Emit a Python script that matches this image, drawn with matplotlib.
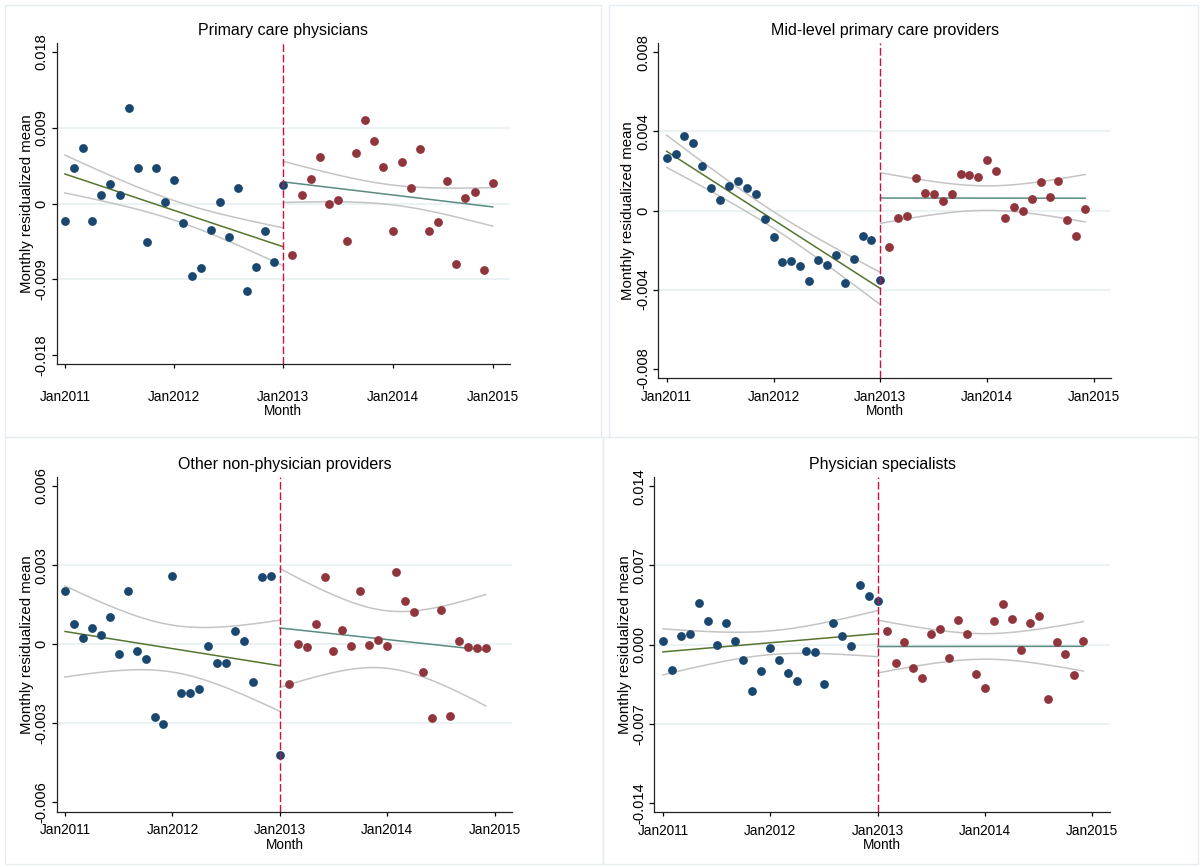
import numpy as np
import matplotlib
matplotlib.use('Agg')
import matplotlib.pyplot as plt
from matplotlib.patches import Rectangle

plt.rcParams['font.family'] = ['Liberation Sans', 'DejaVu Sans']

# =========================
# Monthly residualized means, Jan2011 - Dec2014
# pre = Jan2011..Jan2013 (25 months), post = Feb2013..Dec2014 (23 months)
# =========================
pcp_pre = [-0.00202, 0.00427, 0.00664, -0.00213, 0.00103, 0.00233, 0.00103, 0.01130,
           0.00427, -0.00462, 0.00419, 0.00016, 0.00281, -0.00233, -0.00861, -0.00763,
           -0.00320, 0.00016, -0.00399, 0.00190, -0.01043, -0.00759, -0.00328, -0.00695,
           0.00221]
pcp_post = [-0.00616, 0.00103, 0.00288, 0.00553, 0.00000, 0.00043, -0.00443, 0.00597,
            0.00992, 0.00739, 0.00431, -0.00332, 0.00490, 0.00182, 0.00648, -0.00324,
            -0.00217, 0.00265, -0.00715, 0.00063, 0.00134, -0.00786, 0.00241]

mid_pre = [0.00266, 0.00285, 0.00378, 0.00340, 0.00226, 0.00115, 0.00052, 0.00123,
           0.00147, 0.00116, 0.00083, -0.00042, -0.00133, -0.00261, -0.00253, -0.00282,
           -0.00357, -0.00251, -0.00278, -0.00226, -0.00369, -0.00243, -0.00128, -0.00150,
           -0.00352]
mid_post = [-0.00187, -0.00039, -0.00030, 0.00162, 0.00089, 0.00086, 0.00047, 0.00086,
            0.00187, 0.00182, 0.00172, 0.00256, 0.00202, -0.00037, 0.00017, -0.00002,
            0.00057, 0.00145, 0.00069, 0.00150, -0.00049, -0.00130, 0.00008]

oth_pre = [0.00201, 0.00075, 0.00023, 0.00063, 0.00034, 0.00104, -0.00039, 0.00200,
           -0.00025, -0.00058, -0.00275, -0.00301, 0.00259, -0.00186, -0.00186, -0.00171,
           -0.00005, -0.00071, -0.00071, 0.00049, 0.00011, -0.00143, 0.00255, 0.00259,
           -0.00419]
oth_post = [-0.00149, 0.00001, -0.00009, 0.00078, 0.00256, -0.00027, 0.00052, -0.00005,
            0.00200, -0.00003, 0.00016, -0.00005, 0.00272, 0.00163, 0.00123, -0.00105,
            -0.00280, 0.00129, -0.00274, 0.00014, -0.00011, -0.00015, -0.00016]

spec_pre = [0.00027, -0.00227, 0.00074, 0.00091, 0.00371, 0.00212, -0.00003, 0.00192,
            0.00029, -0.00133, -0.00407, -0.00230, -0.00027, -0.00133, -0.00248, -0.00327,
            -0.00056, -0.00068, -0.00345, 0.00189, 0.00077, -0.00015, 0.00525, 0.00430,
            0.00386]
spec_post = [0.00121, -0.00168, 0.00018, -0.00212, -0.00298, 0.00091, 0.00136, -0.00118,
             0.00215, 0.00091, -0.00262, -0.00389, 0.00209, 0.00354, 0.00224, -0.00050,
             0.00186, 0.00256, -0.00486, 0.00021, -0.00088, -0.00274, 0.00032]

# half-width of the 95% CI at the centre of each segment (pre, post)
pcp_ci = [0.00116, 0.00118]
mid_ci = [0.00042, 0.00062]
oth_ci = [0.00089, 0.00109]
spec_ci = [0.00105, 0.00113]

titles = ['Primary care physicians', 'Mid-level primary care providers',
          'Other non-physician providers', 'Physician specialists']
year_labels = ['Jan2011', 'Jan2012', 'Jan2013', 'Jan2014', 'Jan2015']
pcp_yticks = ['-0.018', '-0.009', '0', '0.009', '0.018']
mid_yticks = ['-0.008', '-0.004', '0', '0.004', '0.008']
oth_yticks = ['-0.006', '-0.003', '0', '0.003', '0.006']
spec_yticks = ['-0.014', '-0.007', '0.000', '0.007', '0.014']

NAVY = '#1a476f'
MAROON = '#90353b'
GREEN = '#55752f'
TEAL = '#5a8a82'
CIGRAY = '#c4c4c4'
GRID = '#e8f0f2'
CUT = '#d0103a'

W, H = 1201, 867


def fit_ci(x, y, xs, mid_half):
    # OLS line; band shaped like the CI of the mean prediction
    x = np.asarray(x, float)
    y = np.asarray(y, float)
    n = len(x)
    b1, b0 = np.polyfit(x, y, 1)
    xm = x.mean()
    sxx = np.sum((x - xm) ** 2)
    half = mid_half * np.sqrt(1.0 + n * (xs - xm) ** 2 / sxx)
    yhat = b0 + b1 * xs
    return yhat, yhat - half, yhat + half


def px_axes(fig, left, top, right, bottom):
    return fig.add_axes([left / W, 1 - bottom / H, (right - left) / W, (bottom - top) / H])


fig = plt.figure(figsize=(12.01, 8.67), dpi=100)
fig.patch.set_facecolor('white')

# panel frames
for (l, t, r, b) in [(5, 5, 601, 437), (609, 5, 1198, 437), (5, 437, 603, 864), (603, 437, 1198, 864)]:
    fig.patches.append(Rectangle((l / W, 1 - b / H), (r - l) / W, (b - t) / H,
                                 transform=fig.transFigure, fill=False,
                                 edgecolor='#e6edf0', linewidth=1.0))

# axes box in pixels, x limits, y limit, last tick, x tick pad, tick labels
panels = [
    dict(box=(56.7, 42.7, 510, 364.3), xlim=(-0.9, 48.9), ymax=0.0191, step=0.009,
         last=47, xpad=15.5, ylabels=pcp_yticks, pre=pcp_pre, post=pcp_post, ci=pcp_ci,
         ylab_x=27.3, month_y=410.7, title_y=30),
    dict(box=(658.3, 42.7, 1111, 378.3), xlim=(-0.94, 49.9), ymax=0.00849, step=0.004,
         last=48, xpad=5.2, ylabels=mid_yticks, pre=mid_pre, post=mid_post, ci=mid_ci,
         ylab_x=628.3, month_y=410.7, title_y=30),
    dict(box=(56.7, 476.7, 512.3, 811.7), xlim=(-0.93, 49.98), ymax=0.00635, step=0.003,
         last=48, xpad=5.2, ylabels=oth_yticks, pre=oth_pre, post=oth_post, ci=oth_ci,
         ylab_x=26.7, month_y=845, title_y=464.3),
    dict(box=(654.3, 476.7, 1110, 812.3), xlim=(-0.97, 49.98), ymax=0.01484, step=0.007,
         last=48, xpad=5.2, ylabels=spec_yticks, pre=spec_pre, post=spec_post, ci=spec_ci,
         ylab_x=625, month_y=845, title_y=464.3),
]

for title, p in zip(titles, panels):
    l, t, r, b = p['box']
    ax = px_axes(fig, l, t, r, b)
    ax.set_facecolor('white')

    x_pre = np.arange(len(p['pre']))
    x_post = np.arange(len(p['pre']), len(p['pre']) + len(p['post']))
    cut = x_pre[-1]

    yt = np.array([-2, -1, 0, 1, 2]) * p['step']
    for v in yt[1:-1]:
        ax.axhline(v, color=GRID, linewidth=1.2, zorder=0)

    # linear fits with 95% CI, before and after the cutoff
    xs_pre = np.linspace(0, cut, 100)
    yh, lo, hi = fit_ci(x_pre, p['pre'], xs_pre, p['ci'][0])
    ax.plot(xs_pre, lo, color=CIGRAY, lw=1.1, zorder=2)
    ax.plot(xs_pre, hi, color=CIGRAY, lw=1.1, zorder=2)
    ax.plot(xs_pre, yh, color=GREEN, lw=1.1, zorder=3)

    xs_post = np.linspace(cut, x_post[-1], 100)
    yh, lo, hi = fit_ci(x_post, p['post'], xs_post, p['ci'][1])
    ax.plot(xs_post, lo, color=CIGRAY, lw=1.1, zorder=2)
    ax.plot(xs_post, hi, color=CIGRAY, lw=1.1, zorder=2)
    ax.plot(xs_post, yh, color=TEAL, lw=1.1, zorder=3)

    ax.scatter(x_pre, p['pre'], s=40, color=NAVY, linewidths=0, zorder=4)
    ax.scatter(x_post, p['post'], s=40, color=MAROON, linewidths=0, zorder=4)

    ax.axvline(cut, color=CUT, lw=1.0, dashes=(5.5, 2.0), zorder=5)

    ax.set_xlim(*p['xlim'])
    ax.set_ylim(-p['ymax'], p['ymax'])

    ax.set_xticks([0, 12, 24, 36, p['last']])
    ax.set_xticklabels(year_labels, fontsize=9.8)
    ax.set_yticks(yt)
    ax.set_yticklabels(p['ylabels'], rotation=90, va='center', ha='center', fontsize=10.5)

    ax.tick_params(axis='y', direction='out', length=3.6, width=0.9, pad=7.2, colors='black')
    ax.tick_params(axis='x', direction='out', length=3.0, width=0.9, pad=p['xpad'], colors='black')

    for side in ('top', 'right'):
        ax.spines[side].set_visible(False)
    for side in ('left', 'bottom'):
        ax.spines[side].set_linewidth(0.9)
        ax.spines[side].set_color('#222222')

    wpx, hpx = r - l, b - t
    ax.set_title(title, fontsize=11.5, y=1 + (t - p['title_y']) / hpx, va='center', pad=0)
    ax.set_ylabel('Monthly residualized mean', fontsize=10.8, va='center')
    ax.yaxis.set_label_coords((p['ylab_x'] - l) / wpx, 0.5)
    ax.set_xlabel('Month', fontsize=9.8, va='center')
    ax.xaxis.set_label_coords(0.5, -(p['month_y'] - b) / hpx)

fig.savefig('out.png', dpi=100, facecolor='white')
